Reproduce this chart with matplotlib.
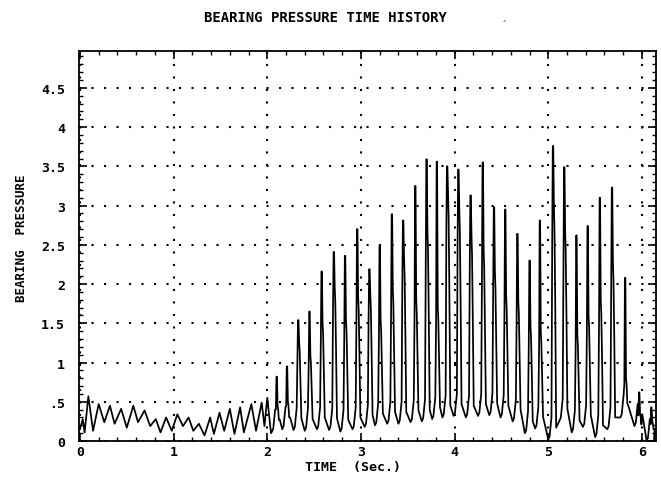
import numpy as np
import matplotlib
matplotlib.use("Agg")
import matplotlib.pyplot as plt
from matplotlib.ticker import MultipleLocator, FixedLocator, FixedFormatter

# ---- low-level response before the impacts begin (turning points) ----
early_t = [0.00, 0.03, 0.05, 0.09, 0.14, 0.20, 0.26, 0.32, 0.37, 0.44, 0.50,
           0.57, 0.62, 0.69, 0.75, 0.81, 0.86, 0.92, 0.98, 1.04, 1.10, 1.16,
           1.21, 1.27, 1.33, 1.39, 1.43, 1.49, 1.54, 1.60, 1.65, 1.71, 1.75,
           1.83, 1.88, 1.94, 1.97, 2.00, 2.04]
early_p = [0.15, 0.28, 0.11, 0.57, 0.13, 0.47, 0.24, 0.45, 0.22, 0.41, 0.17,
           0.45, 0.24, 0.39, 0.19, 0.28, 0.11, 0.30, 0.13, 0.34, 0.19, 0.30,
           0.13, 0.22, 0.07, 0.30, 0.09, 0.36, 0.13, 0.41, 0.09, 0.43, 0.11,
           0.47, 0.13, 0.49, 0.19, 0.55, 0.10]

# ---- impact spikes: time of peak, peak value, value on the falling shoulder,
#      and the trough level reached just before each spike ----
spike_t = [2.10, 2.21, 2.33, 2.45, 2.58, 2.71, 2.83, 2.96, 3.09, 3.20, 3.33,
           3.45, 3.58, 3.70, 3.81, 3.92, 4.04, 4.17, 4.30, 4.42, 4.54, 4.67,
           4.80, 4.91, 5.05, 5.17, 5.30, 5.42, 5.55, 5.68, 5.82, 5.97, 6.10]
spike_peak = [0.82, 0.95, 1.54, 1.65, 2.16, 2.41, 2.36, 2.70, 2.19, 2.49, 2.89,
              2.81, 3.25, 3.59, 3.56, 3.50, 3.46, 3.13, 3.55, 2.98, 2.95, 2.64,
              2.30, 2.81, 3.76, 3.49, 2.62, 2.74, 3.10, 3.23, 2.08, 0.62, 0.43]
spike_shoulder = [0.45, 0.50, 1.27, 1.10, 1.52, 1.97, 1.56, 1.85, 1.87, 1.55, 1.94,
                  2.35, 1.81, 2.70, 1.72, 3.17, 2.96, 2.64, 2.44, 2.17, 1.87, 1.79,
                  1.47, 1.39, 3.00, 2.68, 1.36, 1.60, 1.80, 2.28, 0.80, 0.35, 0.25]
trough_before = [0.12, 0.15, 0.14, 0.13, 0.15, 0.14, 0.12, 0.15, 0.18, 0.20, 0.22,
                 0.22, 0.24, 0.25, 0.28, 0.30, 0.32, 0.30, 0.32, 0.33, 0.30, 0.25,
                 0.10, 0.16, 0.02, 0.26, 0.11, 0.18, 0.05, 0.15, 0.30, 0.19, 0.00]
end_t, end_p = 6.13, 0.02

x_ticks = [0, 1, 2, 3, 4, 5, 6]
x_labels = ["0", "1", "2", "3", "4", "5", "6"]
y_ticks = [0, 0.5, 1, 1.5, 2, 2.5, 3, 3.5, 4, 4.5]
y_labels = ["0", ".5", "1", "1.5", "2", "2.5", "3", "3.5", "4", "4.5"]

# assemble the trace: rounded trough, steep rise, narrow peak, shoulder, fall
tt = list(early_t)
pp = list(early_p)
for t, pk, sh, tr in zip(spike_t, spike_peak, spike_shoulder, trough_before):
    tt += [t - 0.050, t - 0.036, t - 0.016, t - 0.008, t - 0.002,
           t + 0.003, t + 0.010, t + 0.016, t + 0.024, t + 0.034]
    pp += [tr, tr + 0.04, tr + 0.28, sh * 0.85 + tr * 0.15, pk,
           pk, sh, sh * 0.9, sh * 0.6, tr + 0.15]
tt.append(end_t)
pp.append(end_p)

font = "DejaVu Sans Mono"
fig = plt.figure(figsize=(6.61, 4.85), dpi=100)
ax = fig.add_axes([79 / 661, 1 - 442 / 485, (656 - 79) / 661, (442 - 52) / 485])

ax.plot(tt, pp, color="black", lw=1.25, solid_joinstyle="round")

ax.set_xlim(-0.01, 6.15)
ax.set_ylim(0, 4.97)

ax.xaxis.set_major_locator(FixedLocator(x_ticks))
ax.xaxis.set_major_formatter(FixedFormatter(x_labels))
ax.xaxis.set_minor_locator(MultipleLocator(0.2))
ax.yaxis.set_major_locator(FixedLocator(y_ticks))
ax.yaxis.set_major_formatter(FixedFormatter(y_labels))
ax.yaxis.set_minor_locator(MultipleLocator(0.1))

ax.tick_params(which="both", direction="in", top=True, right=True, color="black")
ax.tick_params(which="major", length=6, width=1.2, labelsize=9.5)
ax.tick_params(axis="x", which="major", pad=3)
ax.tick_params(axis="y", which="major", pad=10)
ax.tick_params(which="minor", length=3, width=1.0)
for lab in ax.get_xticklabels() + ax.get_yticklabels():
    lab.set_fontfamily(font)
    lab.set_fontweight("bold")

ax.grid(True, which="major", color="black", linestyle=(0, (1, 5)), linewidth=1.5)
for s in ax.spines.values():
    s.set_linewidth(1.3)

fig.text(0.492, 1 - 18 / 485, "BEARING PRESSURE TIME HISTORY", ha="center", va="center",
         family=font, fontsize=10, fontweight="bold")
fig.text(0.764, 1 - 20 / 485, "-", ha="center", va="center", family=font, fontsize=6, rotation=30)
fig.text(22 / 661, 1 - 238 / 485, "BEARING  PRESSURE", rotation=90, ha="center", va="center",
         family=font, fontsize=9, fontweight="bold")
fig.text(353 / 661, 1 - 468 / 485, "TIME  (Sec.)", ha="center", va="center",
         family=font, fontsize=9.5, fontweight="bold")

fig.savefig("out.png", dpi=100, facecolor="white")
